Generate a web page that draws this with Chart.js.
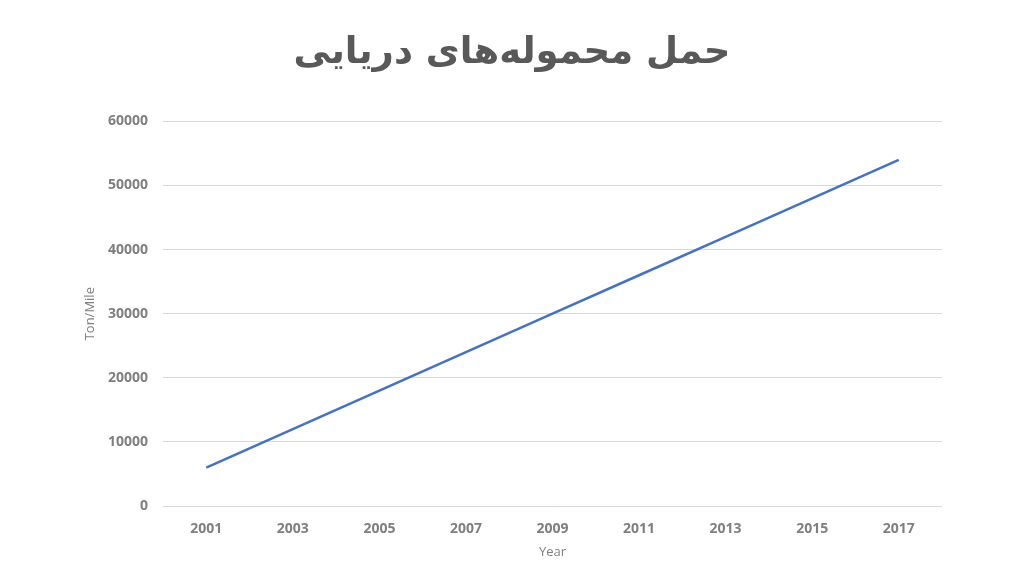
<!DOCTYPE html>
<html><head><meta charset="utf-8">
<script src="https://cdn.jsdelivr.net/npm/chart.js@4"></script>
<style>html,body{margin:0;padding:0;background:#fff;}#wrap{width:1024px;height:569px;}</style>
</head><body><div id="wrap"><canvas id="c" width="1024" height="569"></canvas></div>
<script>
const titleText = "حمل محموله‌های دریایی";
const years = ["2001","2003","2005","2007","2009","2011","2013","2015","2017"];
const tonMile = [6000, 12000, 18000, 24000, 30000, 36000, 42000, 48000, 54000];
const yTitle = "Ton/Mile";
const xTitle = "Year";

new Chart(document.getElementById('c'), {
  type: 'line',
  data: { labels: years, datasets: [{ data: tonMile, borderColor: '#4472c4', borderWidth: 2.5, pointRadius: 0, tension: 0, fill: false }] },
  options: {
    responsive: false, animation: false, devicePixelRatio: 1,
    layout: { padding: { left: 82, right: 82, top: 0, bottom: 9 } },
    plugins: {
      legend: { display: false }, tooltip: { enabled: false },
      title: { display: true, text: titleText, color: '#595959',
        font: { family: 'DejaVu Sans', size: 37, weight: 'bold' }, padding: { top: 31, bottom: 46 } }
    },
    scales: {
      x: {
        offset: true,
        afterFit: s => { s.height = 54; },
        grid: { display: false, drawTicks: false },
        border: { display: false },
        ticks: { color: '#7f7f7f', padding: 15, maxRotation: 0, font: { family: 'Open Sans', size: 14, weight: 'bold' } },
        title: { display: true, text: xTitle, color: '#7f7f7f', padding: { top: 4, bottom: 0 }, font: { family: 'Open Sans', size: 13 } }
      },
      y: {
        min: 0, max: 60000,
        afterFit: s => { s.width = 81; },
        grid: { color: '#d9d9d9', lineWidth: 1, drawTicks: false },
        border: { display: false },
        ticks: { stepSize: 10000, color: '#7f7f7f', padding: 15, callback: v => String(v), font: { family: 'Open Sans', size: 14, weight: 'bold' } },
        title: { display: true, text: yTitle, color: '#7f7f7f', padding: { top: 0, bottom: 0 }, font: { family: 'Open Sans', size: 13 } }
      }
    }
  }
});
</script></body></html>
